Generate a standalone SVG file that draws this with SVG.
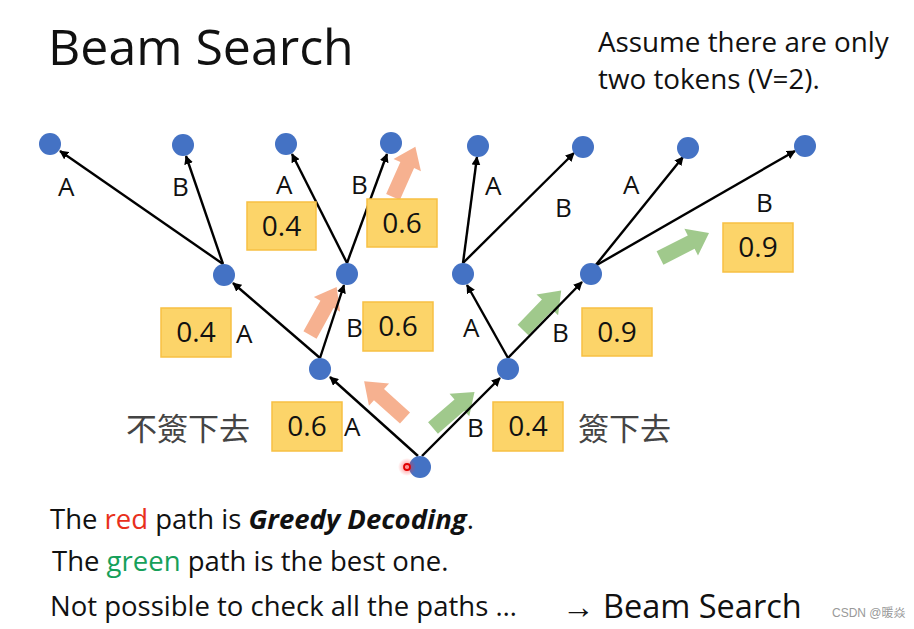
<svg xmlns="http://www.w3.org/2000/svg" width="914" height="629" viewBox="0 0 914 629">
<defs>
<style>
.node{fill:#4472C4}
.edge{stroke:#000;stroke-width:2.4;fill:none;marker-end:url(#ah)}
.lbl{font-family:"Open Sans","Liberation Sans",sans-serif;font-size:26px;fill:#111}
.box rect{fill:#FCD469;stroke:#F7C043;stroke-width:1.5}
.box text{font-family:"Open Sans","Liberation Sans",sans-serif;font-size:28px;fill:#111;text-anchor:middle}
.or{fill:#F4A37C;opacity:0.85}
.gr{fill:#8FBF78;opacity:0.85}
.txt{font-family:"Open Sans","Liberation Sans",sans-serif;fill:#111}
.cjk{font-family:"Noto Sans CJK TC","Noto Sans CJK SC",sans-serif;font-size:31px;fill:#444}
</style>
<marker id="ah" viewBox="0 0 10 10" refX="9" refY="5" markerWidth="9" markerHeight="9" markerUnits="userSpaceOnUse" orient="auto"><path d="M0,0 L10,5 L0,10 z" fill="#000"/></marker>
<path id="barrow" d="M0,-7.5 L35,-7.5 L35,-15 L55,0 L35,15 L35,7.5 L0,7.5 z"/>
<radialGradient id="glow"><stop offset="0" stop-color="#ff3030" stop-opacity="0.6"/><stop offset="1" stop-color="#ff3030" stop-opacity="0"/></radialGradient>
</defs>
<rect width="914" height="629" fill="#fff"/>

<text class="txt" x="48" y="65" font-size="50">Beam Search</text>
<text class="txt" x="598" y="52" font-size="27.8">Assume there are only</text>
<text class="txt" x="598" y="89" font-size="27.8">two tokens (V=2).</text>

<g id="big-arrows">
<use href="#barrow" class="or" transform="translate(405,418) rotate(-138)"/>
<use href="#barrow" class="or" transform="translate(310,335) rotate(-61)"/>
<use href="#barrow" class="or" transform="translate(393,197) rotate(-66)"/>
<use href="#barrow" class="gr" transform="translate(433,428) rotate(-41)"/>
<use href="#barrow" class="gr" transform="translate(523,330) rotate(-46)"/>
<use href="#barrow" class="gr" transform="translate(660,258) rotate(-27)"/>
</g>

<g id="connectors">
<line class="edge" x1="418" y1="456" x2="330" y2="377"/>
<line class="edge" x1="422" y1="456" x2="500" y2="378"/>
<line class="edge" x1="320" y1="358" x2="233" y2="283"/>
<line class="edge" x1="320" y1="358" x2="344" y2="285"/>
<line class="edge" x1="508" y1="358" x2="467" y2="285"/>
<line class="edge" x1="508" y1="358" x2="582" y2="282"/>
<line class="edge" x1="223" y1="264" x2="60" y2="151"/>
<line class="edge" x1="223" y1="264" x2="186" y2="156"/>
<line class="edge" x1="347" y1="263" x2="292" y2="154"/>
<line class="edge" x1="347" y1="263" x2="387" y2="154"/>
<line class="edge" x1="463" y1="263" x2="477" y2="157"/>
<line class="edge" x1="463" y1="263" x2="574" y2="153"/>
<line class="edge" x1="595" y1="266" x2="683" y2="157"/>
<line class="edge" x1="595" y1="266" x2="795" y2="151"/>
</g>

<g id="edge-labels">
<text class="lbl" x="58" y="196">A</text>
<text class="lbl" x="172" y="196">B</text>
<text class="lbl" x="276" y="194">A</text>
<text class="lbl" x="351" y="194">B</text>
<text class="lbl" x="485" y="195">A</text>
<text class="lbl" x="555" y="217">B</text>
<text class="lbl" x="623" y="194">A</text>
<text class="lbl" x="756" y="212">B</text>
<text class="lbl" x="236" y="343">A</text>
<text class="lbl" x="346" y="337">B</text>
<text class="lbl" x="463" y="337">A</text>
<text class="lbl" x="552" y="342">B</text>
<text class="lbl" x="344" y="436">A</text>
<text class="lbl" x="467" y="437">B</text>
</g>

<g id="n-root"><circle class="node" cx="420" cy="467" r="11"/></g>
<g id="n-l1a"><circle class="node" cx="320" cy="369" r="11"/></g>
<g id="n-l1b"><circle class="node" cx="508" cy="369" r="11"/></g>
<g id="n-l2a"><circle class="node" cx="224" cy="275" r="11"/></g>
<g id="n-l2b"><circle class="node" cx="347" cy="274" r="11"/></g>
<g id="n-l2c"><circle class="node" cx="463" cy="274" r="11"/></g>
<g id="n-l2d"><circle class="node" cx="591" cy="274" r="11"/></g>
<g id="n-l3a"><circle class="node" cx="50" cy="144" r="11"/></g>
<g id="n-l3b"><circle class="node" cx="183" cy="145" r="11"/></g>
<g id="n-l3c"><circle class="node" cx="286" cy="144" r="11"/></g>
<g id="n-l3d"><circle class="node" cx="391" cy="143" r="11"/></g>
<g id="n-l3e"><circle class="node" cx="478" cy="146" r="11"/></g>
<g id="n-l3f"><circle class="node" cx="583" cy="147" r="11"/></g>
<g id="n-l3g"><circle class="node" cx="688" cy="148" r="11"/></g>
<g id="n-l3h"><circle class="node" cx="805" cy="146" r="11"/></g>

<g id="boxes">
<g class="box" id="b1"><rect x="247" y="202" width="69" height="48"/><text x="281.5" y="236">0.4</text></g>
<g class="box" id="b2"><rect x="367" y="199" width="70" height="48"/><text x="402" y="233">0.6</text></g>
<g class="box" id="b3"><rect x="723" y="223" width="70" height="49"/><text x="758" y="257">0.9</text></g>
<g class="box" id="b4"><rect x="161" y="308" width="70" height="49"/><text x="196" y="342">0.4</text></g>
<g class="box" id="b5"><rect x="363" y="302" width="70" height="49"/><text x="398" y="336">0.6</text></g>
<g class="box" id="b6"><rect x="582" y="308" width="70" height="48"/><text x="617" y="342">0.9</text></g>
<g class="box" id="b7"><rect x="272" y="402" width="70" height="49"/><text x="307" y="436">0.6</text></g>
<g class="box" id="b8"><rect x="493" y="402" width="70" height="49"/><text x="528" y="436">0.4</text></g>
</g>

<text class="cjk" x="126" y="440">不簽下去</text>
<text class="cjk" x="578" y="440">簽下去</text>

<circle cx="407" cy="467" r="9" fill="url(#glow)"/>
<circle cx="407" cy="467" r="3" fill="none" stroke="#e00000" stroke-width="1.8"/>

<text class="txt" x="50" y="529" font-size="27.5">The <tspan fill="#E8301C">red</tspan> path is <tspan font-weight="bold" font-style="italic">Greedy Decoding</tspan>.</text>
<text class="txt" x="52" y="571" font-size="27.5">The <tspan fill="#16A05A">green</tspan> path is the best one.</text>
<text class="txt" x="50" y="616" font-size="27.5">Not possible to check all the paths …</text>
<text class="txt" x="562" y="618" font-size="32.5">→ Beam Search</text>
<text x="832" y="617" font-family="'Liberation Sans','Noto Sans CJK SC',sans-serif" font-size="12" fill="#999">CSDN @暖焱</text>
</svg>
